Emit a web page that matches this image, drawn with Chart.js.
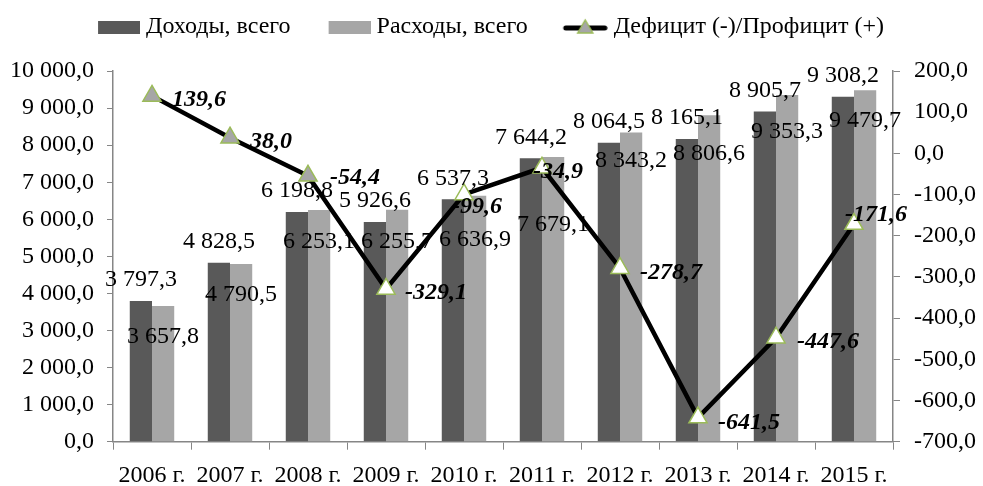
<!DOCTYPE html>
<html lang="ru">
<head>
<meta charset="utf-8">
<script src="https://cdn.jsdelivr.net/npm/chart.js@4.4.1/dist/chart.umd.min.js"></script>
<style>
    html, body { margin: 0; padding: 0; background: #fff; }
    .chart-box { width: 983px; height: 486px; }
</style>
</head>
<body>
<div class="chart-box"><canvas id="budgetChart"></canvas></div>
<script>
// данные бюджета, млрд руб.
const years = ['2006 г.', '2007 г.', '2008 г.', '2009 г.', '2010 г.', '2011 г.', '2012 г.', '2013 г.', '2014 г.', '2015 г.'];
const incomeValues = [3797.3, 4828.5, 6198.8, 5926.6, 6537.3, 7644.2, 8064.5, 8165.1, 8905.7, 9308.2];
const expenseValues = [3657.8, 4790.5, 6253.1, 6255.7, 6636.9, 7679.1, 8343.2, 8806.6, 9353.3, 9479.7];
const balanceValues = [139.6, 38.0, -54.4, -329.1, -99.6, -34.9, -278.7, -641.5, -447.6, -171.6];

const seriesNames = ['Доходы, всего', 'Расходы, всего', 'Дефицит (-)/Профицит (+)'];

const FONT = 'Liberation Serif';
const DARK = '#595959';
const LIGHT = '#a6a6a6';
const GREEN = '#9bbb59';
const AXIS = '#868686';

// сдвиги подписей (как их разложили в исходной диаграмме)
const expenseLabelShift = [-1, -1, 0, 0, 12, 36, -4, 6, 5, -2];
const balanceLabelShift = [[20, 4], [20, 4], [22, 2], [19, 4], [-12, 12], [-9, 4], [20, 5], [20, 5], [21, 4], [-9, -9]];

function fmtNum(v) {
    const parts = Math.abs(v).toFixed(1).split('.');
    const intPart = parts[0].replace(/\B(?=(\d{3})+(?!\d))/g, ' ');
    return (v < 0 ? '-' : '') + intPart + ',' + parts[1];
}

const legendPad = 61;

function makeBoxIcon(color) {
    const c = document.createElement('canvas');
    c.width = legendPad + 12;
    c.height = 13;
    const g = c.getContext('2d');
    g.fillStyle = color;
    g.fillRect(c.width - 42, 0, 42, 13);
    return c;
}

function makeLineIcon() {
    const c = document.createElement('canvas');
    c.width = legendPad + 12;
    c.height = 20;
    const g = c.getContext('2d');
    const x0 = c.width - 45;
    g.strokeStyle = '#000';
    g.lineWidth = 5;
    g.lineCap = 'round';
    g.beginPath();
    g.moveTo(x0 + 3, 11);
    g.lineTo(c.width - 3, 11);
    g.stroke();
    const cx = x0 + 22.5;
    g.fillStyle = LIGHT;
    g.strokeStyle = GREEN;
    g.lineWidth = 1.5;
    g.beginPath();
    g.moveTo(cx, 3);
    g.lineTo(cx + 7.5, 16);
    g.lineTo(cx - 7.5, 16);
    g.closePath();
    g.fill();
    g.stroke();
    return c;
}

const legendIcons = [makeBoxIcon(DARK), makeBoxIcon(LIGHT), makeLineIcon()];

// подписи значений
const valueLabels = {
    id: 'valueLabels',
    afterDatasetsDraw(chart) {
        const ctx = chart.ctx;
        ctx.save();
        ctx.fillStyle = '#000';
        ctx.textBaseline = 'middle';
        ctx.textAlign = 'center';
        ctx.font = '24px "' + FONT + '"';
        chart.getDatasetMeta(0).data.forEach((bar, i) => {
            ctx.fillText(fmtNum(incomeValues[i]), bar.x, bar.y - 21);
        });
        chart.getDatasetMeta(1).data.forEach((bar, i) => {
            ctx.fillText(fmtNum(expenseValues[i]), bar.x, bar.y + 32 + expenseLabelShift[i]);
        });
        ctx.font = 'italic bold 24px "' + FONT + '"';
        ctx.textAlign = 'left';
        chart.getDatasetMeta(2).data.forEach((pt, i) => {
            const [dx, dy] = balanceLabelShift[i];
            ctx.fillText(fmtNum(balanceValues[i]), pt.x + dx, pt.y + dy);
        });
        ctx.restore();
    }
};

// место под легендой и её сдвиг
const legendSpace = {
    id: 'legendSpace',
    afterInit(chart) {
        const legend = chart.legend;
        const fit = legend.fit;
        const draw = legend.draw;
        legend.fit = function () {
            fit.call(this);
            this.height += 24;
        };
        legend.draw = function () {
            const c = this.ctx;
            c.save();
            c.translate(-13, 2);
            draw.call(this);
            c.restore();
        };
    }
};

const ctx = document.getElementById('budgetChart').getContext('2d');
const chartInstance = new Chart(ctx, {
    type: 'bar',
    data: {
        labels: years,
        datasets: [
            {
                label: seriesNames[0],
                data: incomeValues,
                backgroundColor: DARK,
                yAxisID: 'y',
                order: 1,
                categoryPercentage: 0.57,
                barPercentage: 1.0
            },
            {
                label: seriesNames[1],
                data: expenseValues,
                backgroundColor: LIGHT,
                yAxisID: 'y',
                order: 1,
                categoryPercentage: 0.57,
                barPercentage: 1.0
            },
            {
                type: 'line',
                label: seriesNames[2],
                data: balanceValues,
                yAxisID: 'y1',
                order: 0,
                borderColor: '#000',
                borderWidth: 4.5,
                tension: 0,
                pointStyle: 'triangle',
                pointRadius: 10.5,
                pointBorderWidth: 1.5,
                pointBorderColor: GREEN,
                pointBackgroundColor: c => c.dataIndex < 3 ? LIGHT : '#ffffff'
            }
        ]
    },
    options: {
        responsive: true,
        maintainAspectRatio: false,
        animation: false,
        devicePixelRatio: 1,
        layout: { padding: 0 },
        scales: {
            x: {
                grid: { display: true, drawOnChartArea: false, drawTicks: true, tickLength: 8, color: AXIS, offset: true },
                border: { color: AXIS, width: 1.5 },
                ticks: { color: '#000', font: { family: FONT, size: 24 }, padding: 12, maxRotation: 0 },
                afterFit: s => { s.height = 44.3; }
            },
            y: {
                position: 'left',
                min: 0,
                max: 10000,
                grid: { display: true, drawOnChartArea: false, drawTicks: true, tickLength: 6, color: AXIS },
                border: { color: AXIS, width: 1.5 },
                ticks: { stepSize: 1000, color: '#000', font: { family: FONT, size: 24 }, padding: 13, callback: v => fmtNum(v) },
                afterFit: s => { s.width = 113; }
            },
            y1: {
                position: 'right',
                min: -700,
                max: 200,
                grid: { display: true, drawOnChartArea: false, drawTicks: true, tickLength: 7, color: AXIS },
                border: { color: AXIS, width: 1.5 },
                ticks: { stepSize: 100, color: '#000', font: { family: FONT, size: 24 }, padding: 14, callback: v => fmtNum(v) },
                afterFit: s => { s.width = 90; }
            }
        },
        plugins: {
            tooltip: { enabled: false },
            legend: {
                position: 'top',
                labels: {
                    usePointStyle: true,
                    pointStyleWidth: legendPad,
                    padding: 13,
                    color: '#000',
                    font: { family: FONT, size: 24 },
                    sort: (a, b) => a.datasetIndex - b.datasetIndex,
                    generateLabels(chart) {
                        const items = Chart.defaults.plugins.legend.labels.generateLabels(chart);
                        items.forEach(it => { it.pointStyle = legendIcons[it.datasetIndex]; });
                        return items;
                    }
                }
            }
        }
    },
    plugins: [valueLabels, legendSpace]
});
</script>
</body>
</html>
